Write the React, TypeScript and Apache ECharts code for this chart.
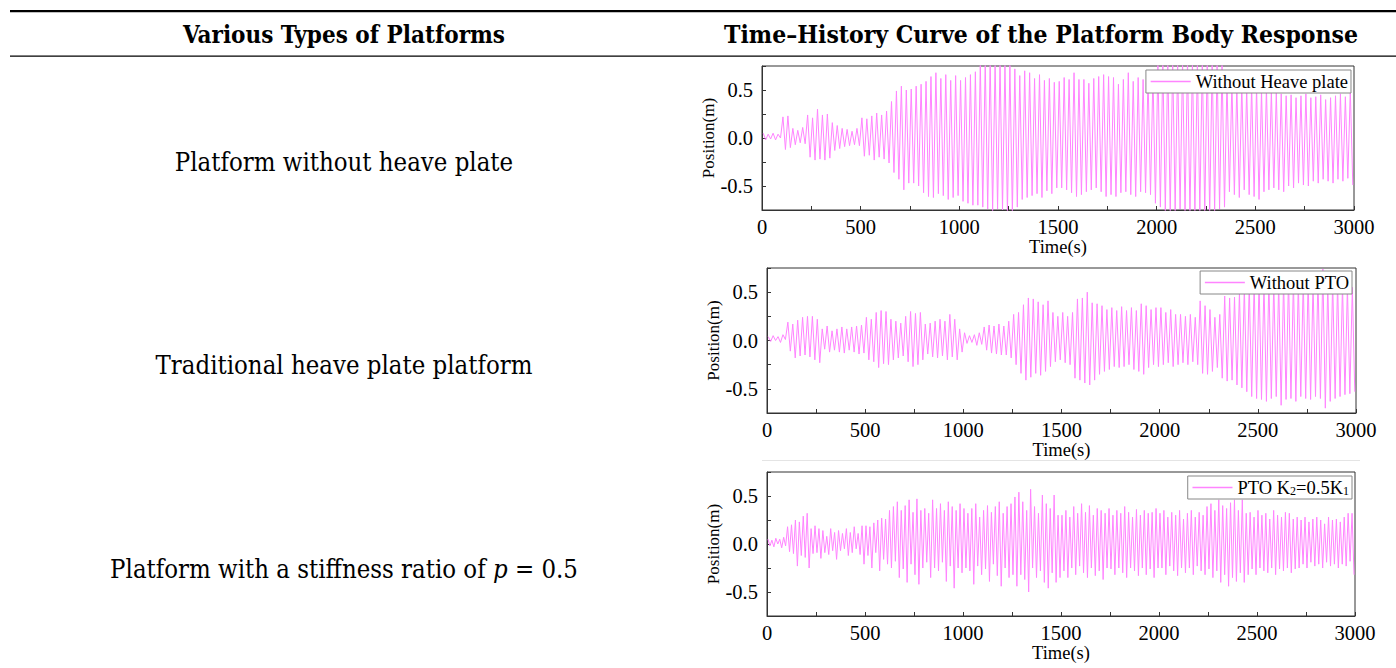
import React, { useEffect, useRef } from "react";
import * as echarts from "echarts";

// ---- Data (peak / trough of each oscillation cycle, metres) ----
const TIME_MAX = 3000; // s

// Platform without heave plate
const P1 = [
  0.05, 0.04, 0.05, 0.04, 0.22, 0.23, 0.1, 0.08, 0.11, 0.24,
  0.21, 0.3, 0.24, 0.25, 0.16, 0.13, 0.1, 0.09, 0.07, 0.1,
  0.21, 0.2, 0.23, 0.26, 0.24, 0.28, 0.38, 0.49, 0.54, 0.5,
  0.51, 0.54, 0.56, 0.59, 0.64, 0.68, 0.62, 0.66, 0.6, 0.65,
  0.6, 0.63, 0.66, 0.69, 0.78, 0.8, 0.8, 0.8, 0.79, 0.78,
  0.76, 0.72, 0.65, 0.7, 0.68, 0.62, 0.66, 0.6, 0.62, 0.58,
  0.59, 0.63, 0.61, 0.68, 0.61, 0.61, 0.57, 0.62, 0.64, 0.66,
  0.64, 0.63, 0.56, 0.61, 0.68, 0.59, 0.63, 0.61, 0.64, 0.68,
  0.78, 0.8, 0.82, 0.8, 0.78, 0.8, 0.82, 0.8, 0.78, 0.8,
  0.82, 0.8, 0.78, 0.76, 0.6, 0.58, 0.55, 0.56, 0.52, 0.55,
  0.53, 0.5, 0.52, 0.5, 0.48, 0.46, 0.44, 0.45, 0.42, 0.44,
  0.46, 0.42, 0.43, 0.45, 0.4, 0.42, 0.44, 0.46, 0.43, 0.5,
];
const T1 = [
  -0.02, -0.01, -0.02, 0.0, -0.12, -0.1, -0.07, -0.05, -0.06, -0.2,
  -0.23, -0.22, -0.23, -0.21, -0.13, -0.11, -0.09, -0.08, -0.07, -0.08,
  -0.19, -0.18, -0.23, -0.2, -0.22, -0.26, -0.36, -0.43, -0.54, -0.47,
  -0.47, -0.5, -0.57, -0.61, -0.62, -0.58, -0.6, -0.64, -0.62, -0.6,
  -0.66, -0.68, -0.7, -0.7, -0.72, -0.74, -0.76, -0.74, -0.75, -0.78,
  -0.78, -0.72, -0.64, -0.62, -0.6, -0.58, -0.62, -0.55, -0.58, -0.52,
  -0.52, -0.54, -0.57, -0.61, -0.59, -0.56, -0.54, -0.52, -0.56, -0.61,
  -0.59, -0.61, -0.57, -0.56, -0.59, -0.61, -0.56, -0.57, -0.59, -0.68,
  -0.72, -0.76, -0.78, -0.76, -0.74, -0.76, -0.8, -0.78, -0.76, -0.78,
  -0.8, -0.76, -0.74, -0.72, -0.56, -0.59, -0.62, -0.54, -0.59, -0.61,
  -0.64, -0.56, -0.54, -0.52, -0.54, -0.56, -0.5, -0.52, -0.47, -0.49,
  -0.5, -0.45, -0.47, -0.43, -0.45, -0.47, -0.43, -0.45, -0.42, -0.49,
];

// Traditional heave plate platform (without PTO)
const P2 = [
  0.04, 0.05, 0.04, 0.06, 0.19, 0.17, 0.21, 0.24, 0.25, 0.25,
  0.22, 0.12, 0.15, 0.1, 0.12, 0.14, 0.12, 0.14, 0.15, 0.16,
  0.24, 0.22, 0.29, 0.31, 0.3, 0.22, 0.2, 0.18, 0.25, 0.3,
  0.28, 0.29, 0.17, 0.18, 0.2, 0.22, 0.2, 0.27, 0.22, 0.12,
  0.08, 0.05, 0.06, 0.08, 0.14, 0.16, 0.15, 0.17, 0.15, 0.2,
  0.27, 0.29, 0.37, 0.44, 0.43, 0.4, 0.37, 0.41, 0.29, 0.25,
  0.29, 0.25, 0.29, 0.43, 0.44, 0.5, 0.39, 0.38, 0.36, 0.32,
  0.34, 0.31, 0.35, 0.31, 0.34, 0.31, 0.38, 0.36, 0.32, 0.34,
  0.34, 0.29, 0.32, 0.27, 0.27, 0.25, 0.27, 0.24, 0.41, 0.36,
  0.32, 0.24, 0.27, 0.46, 0.44, 0.45, 0.5, 0.55, 0.58, 0.6,
  0.62, 0.6, 0.63, 0.6, 0.6, 0.62, 0.65, 0.62, 0.6, 0.62,
  0.64, 0.6, 0.65, 0.74, 0.6, 0.62, 0.6, 0.58, 0.56, 0.55,
];
const T2 = [
  -0.01, 0.0, -0.02, 0.01, -0.11, -0.18, -0.16, -0.15, -0.17, -0.2,
  -0.23, -0.09, -0.12, -0.1, -0.12, -0.13, -0.1, -0.12, -0.14, -0.13,
  -0.2, -0.22, -0.28, -0.24, -0.25, -0.2, -0.18, -0.16, -0.22, -0.27,
  -0.25, -0.2, -0.14, -0.17, -0.18, -0.16, -0.2, -0.17, -0.2, -0.12,
  -0.03, -0.02, -0.05, -0.04, -0.1, -0.13, -0.14, -0.15, -0.15, -0.18,
  -0.25, -0.34, -0.41, -0.38, -0.34, -0.36, -0.32, -0.27, -0.22, -0.2,
  -0.23, -0.25, -0.39, -0.41, -0.44, -0.46, -0.41, -0.35, -0.32, -0.3,
  -0.27, -0.28, -0.27, -0.25, -0.3, -0.32, -0.35, -0.28, -0.25, -0.27,
  -0.25, -0.23, -0.27, -0.25, -0.23, -0.25, -0.22, -0.25, -0.34, -0.35,
  -0.32, -0.28, -0.39, -0.42, -0.41, -0.46, -0.49, -0.53, -0.58, -0.6,
  -0.61, -0.63, -0.6, -0.58, -0.67, -0.61, -0.6, -0.63, -0.58, -0.6,
  -0.61, -0.58, -0.6, -0.7, -0.63, -0.6, -0.58, -0.56, -0.55, -0.53,
];

// Platform with stiffness ratio p = 0.5 (PTO K2 = 0.5 K1)
const P3 = [
  0.05, 0.04, 0.06, 0.05, 0.07, 0.18, 0.2, 0.25, 0.23, 0.29,
  0.32, 0.16, 0.19, 0.16, 0.14, 0.08, 0.16, 0.12, 0.14, 0.11,
  0.16, 0.12, 0.18, 0.11, 0.19, 0.19, 0.18, 0.22, 0.25, 0.27,
  0.26, 0.35, 0.39, 0.44, 0.35, 0.4, 0.46, 0.33, 0.47, 0.35,
  0.37, 0.32, 0.46, 0.37, 0.42, 0.35, 0.44, 0.39, 0.35, 0.42,
  0.37, 0.32, 0.37, 0.42, 0.28, 0.35, 0.4, 0.33, 0.39, 0.44,
  0.32, 0.39, 0.42, 0.49, 0.54, 0.44, 0.35, 0.57, 0.39, 0.32,
  0.51, 0.42, 0.37, 0.51, 0.3, 0.3, 0.35, 0.28, 0.39, 0.32,
  0.42, 0.33, 0.4, 0.3, 0.37, 0.35, 0.32, 0.37, 0.3, 0.35,
  0.32, 0.39, 0.33, 0.28, 0.36, 0.3, 0.35, 0.32, 0.33, 0.37,
  0.32, 0.35, 0.28, 0.33, 0.3, 0.35, 0.26, 0.32, 0.35, 0.28,
  0.33, 0.3, 0.39, 0.42, 0.35, 0.46, 0.4, 0.37, 0.43, 0.46,
  0.35, 0.46, 0.32, 0.33, 0.28, 0.35, 0.3, 0.32, 0.26, 0.35,
  0.3, 0.28, 0.33, 0.32, 0.26, 0.28, 0.25, 0.28, 0.23, 0.26,
  0.28, 0.25, 0.21, 0.28, 0.25, 0.26, 0.23, 0.28, 0.32, 0.32,
];
const T3 = [
  -0.02, -0.03, 0.0, -0.04, -0.02, -0.08, -0.1, -0.23, -0.12, -0.14,
  -0.25, -0.1, -0.09, -0.15, -0.09, -0.11, -0.07, -0.16, -0.07, -0.05,
  -0.12, -0.09, -0.05, -0.11, -0.21, -0.12, -0.25, -0.09, -0.28, -0.16,
  -0.21, -0.25, -0.18, -0.35, -0.26, -0.4, -0.21, -0.32, -0.42, -0.25,
  -0.19, -0.35, -0.25, -0.28, -0.19, -0.39, -0.23, -0.46, -0.25, -0.3,
  -0.25, -0.28, -0.42, -0.23, -0.32, -0.26, -0.39, -0.21, -0.33, -0.44,
  -0.25, -0.35, -0.32, -0.44, -0.32, -0.37, -0.5, -0.25, -0.35, -0.28,
  -0.4, -0.46, -0.3, -0.4, -0.35, -0.28, -0.35, -0.25, -0.32, -0.23,
  -0.3, -0.35, -0.25, -0.33, -0.28, -0.37, -0.25, -0.26, -0.32, -0.25,
  -0.3, -0.35, -0.25, -0.28, -0.33, -0.25, -0.32, -0.26, -0.35, -0.25,
  -0.25, -0.32, -0.23, -0.28, -0.33, -0.25, -0.3, -0.25, -0.32, -0.23,
  -0.28, -0.32, -0.26, -0.35, -0.28, -0.4, -0.32, -0.44, -0.35, -0.39,
  -0.3, -0.4, -0.32, -0.26, -0.32, -0.25, -0.28, -0.3, -0.25, -0.32,
  -0.26, -0.28, -0.25, -0.3, -0.26, -0.25, -0.21, -0.25, -0.19, -0.23,
  -0.21, -0.25, -0.19, -0.23, -0.21, -0.25, -0.21, -0.23, -0.18, -0.32,
];

const SERIES_NAMES = ["Without Heave plate", "Without PTO", "PTO K2=0.5K1"];
const ROW_LABELS = [
  "Platform without heave plate",
  "Traditional heave plate platform",
  "Platform with a stiffness ratio of {i|p} = 0.5",
];
const HEADERS = ["Various Types of Platforms", "Time\u2013History Curve of the Platform Body Response"];
const X_TICK_STEP = 250;
const X_LABEL_STEP = 500;
const Y_MIN = -0.75;
const Y_MAX = 0.75;
const Y_TICK_STEP = 0.25;
const Y_LABEL_STEP = 0.5;

const SERIF = "'Liberation Serif', 'Times New Roman', serif";
const TABLE_FONT = "'DejaVu Serif Condensed', 'DejaVu Serif', serif";
const PINK = "#ff84ff";
const CLEAR = "rgba(0,0,0,0)";

function zigzag(peaks: number[], troughs: number[]): number[][] {
  const n = peaks.length;
  const step = TIME_MAX / n;
  const out: number[][] = [];
  for (let i = 0; i < n; i++) {
    out.push([i * step + step * 0.25, peaks[i]]);
    out.push([i * step + step * 0.75, troughs[i]]);
  }
  return out;
}

const GRIDS = [
  { left: 762, top: 66, width: 592, height: 144 },
  { left: 767, top: 268, width: 589, height: 145 },
  { left: 767, top: 472, width: 588, height: 144 },
];
const LEGEND_POS = [
  { right: 45, top: 70 },
  { right: 44, top: 271 },
  { right: 44, top: 476 },
];
const ROW_Y = [162, 365, 569];

export default function App() {
  const ref = useRef<HTMLDivElement>(null);
  useEffect(() => {
    if (!ref.current) return;
    const chart = echarts.init(ref.current, null, { renderer: "svg" });
    const datasets = [zigzag(P1, T1), zigzag(P2, T2), zigzag(P3, T3)];

    const axisColor = "#333";
    const xAxes = GRIDS.map((_, k) => ({
      type: "value",
      gridIndex: k,
      min: 0,
      max: TIME_MAX,
      interval: X_TICK_STEP,
      axisLine: { show: true, onZero: false, lineStyle: { color: axisColor, width: 1 } },
      axisTick: { show: true, inside: true, length: 4, lineStyle: { color: axisColor } },
      splitLine: { show: false },
      axisLabel: {
        formatter: (v: number) => (v % X_LABEL_STEP === 0 ? String(v) : ""),
        fontFamily: SERIF,
        fontSize: 20.5,
        color: "#000",
        margin: 6,
      },
      name: "Time(s)",
      nameLocation: "middle",
      nameGap: 24,
      nameTextStyle: { fontFamily: SERIF, fontSize: 18.5, color: "#000" },
    }));
    const yAxes = GRIDS.map((_, k) => ({
      type: "value",
      gridIndex: k,
      min: Y_MIN,
      max: Y_MAX,
      interval: Y_TICK_STEP,
      axisLine: { show: true, onZero: false, lineStyle: { color: axisColor, width: 1 } },
      axisTick: { show: true, inside: true, length: 4, lineStyle: { color: axisColor } },
      splitLine: { show: false },
      axisLabel: {
        formatter: (v: number) => {
          const r = v / Y_LABEL_STEP;
          return Math.abs(r - Math.round(r)) < 1e-6 ? v.toFixed(1) : "";
        },
        fontFamily: SERIF,
        fontSize: 20.5,
        color: "#000",
        margin: 9,
      },
      name: "Position(m)",
      nameLocation: "middle",
      nameGap: 38,
      nameTextStyle: { fontFamily: SERIF, fontSize: 17, color: "#000" },
    }));

    const legends = SERIES_NAMES.map((name, k) => ({
      data: [name],
      ...LEGEND_POS[k],
      orient: "horizontal",
      selectedMode: false,
      itemWidth: 40,
      itemHeight: 14,
      itemGap: 6,
      padding: [2, 3, 2, 4],
      backgroundColor: "#fff",
      borderColor: "#888",
      borderWidth: 1,
      borderRadius: 0,
      itemStyle: { color: CLEAR, borderColor: CLEAR, borderWidth: 0 },
      lineStyle: { color: PINK, width: 1.5, opacity: 1 },
      formatter: k === 2 ? () => "PTO K{s|2}=0.5K{s|1}" : undefined,
      textStyle: {
        fontFamily: SERIF,
        fontSize: 18.5,
        color: "#000",
        rich: {
          s: { fontFamily: SERIF, fontSize: 12, color: "#000", verticalAlign: "bottom", padding: [7, 0, 0, 0] },
        },
      },
    }));

    const series = datasets.map((d, k) => ({
      type: "line",
      name: SERIES_NAMES[k],
      xAxisIndex: k,
      yAxisIndex: k,
      data: d,
      showSymbol: false,
      symbol: "none",
      clip: true,
      silent: true,
      lineStyle: { color: PINK, width: 1 },
      itemStyle: { color: PINK },
    }));

    const graphic: any[] = [
      { type: "rect", shape: { x: 10, y: 10, width: 1386, height: 2.2 }, style: { fill: "#000" } },
      { type: "rect", shape: { x: 10, y: 55.5, width: 1386, height: 1.3 }, style: { fill: "#000" } },
      {
        type: "text",
        style: {
          text: HEADERS[0], x: 344, y: 34, textAlign: "center", textVerticalAlign: "middle",
          fontFamily: TABLE_FONT, fontSize: 24, fontWeight: "bold", fill: "#000",
        },
      },
      {
        type: "text",
        style: {
          text: HEADERS[1], x: 1041, y: 34, textAlign: "center", textVerticalAlign: "middle",
          fontFamily: TABLE_FONT, fontSize: 24.5, fontWeight: "bold", fill: "#000",
        },
      },
      { type: "rect", shape: { x: 762, y: 460, width: 598, height: 1 }, style: { fill: "#e4e4e4" } },
    ];
    ROW_LABELS.forEach((t, k) => {
      graphic.push({
        type: "text",
        style: {
          text: t, x: 344, y: ROW_Y[k], textAlign: "center", textVerticalAlign: "middle",
          fontFamily: TABLE_FONT, fontSize: 25.5, fill: "#000",
          rich: { i: { fontFamily: TABLE_FONT, fontSize: 25.5, fontStyle: "italic", fill: "#000" } },
        },
      });
    });

    chart.setOption({
      animation: false,
      backgroundColor: "#fff",
      grid: GRIDS.map((g) => ({ ...g, show: true, borderColor: axisColor, borderWidth: 1, backgroundColor: "transparent" })),
      xAxis: xAxes,
      yAxis: yAxes,
      legend: legends,
      series,
      graphic,
    } as any);
    return () => chart.dispose();
  }, []);
  return (
    <div
      ref={ref}
      style={{ position: "fixed", left: 0, top: 0, width: 1396, height: 668, background: "#fff" }}
    />
  );
}
